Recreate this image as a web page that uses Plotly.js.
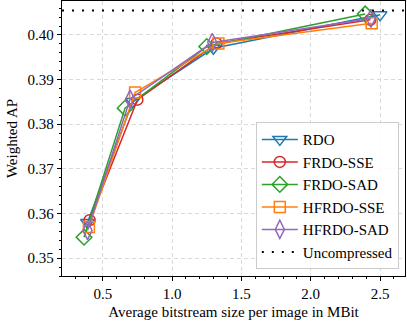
<!DOCTYPE html>
<html>
<head>
<meta charset="utf-8">
<script src="https://cdn.plot.ly/plotly-3.0.1.min.js"></script>
<style>html,body{margin:0;padding:0;background:#fff;} #chart{width:407px;height:324px;}</style>
</head>
<body>
<div id="chart"></div>
<script>
// Weighted AP over bitstream size, one series per rate-distortion method
const names = ['RDO', 'FRDO-SSE', 'FRDO-SAD', 'HFRDO-SSE', 'HFRDO-SAD'];
const rdoX = [0.39, 0.716, 1.298, 2.50];
const rdoY = [0.3580, 0.3851, 0.3970, 0.4045];
const frdoSseX = [0.405, 0.75, 1.32, 2.43];
const frdoSseY = [0.3585, 0.3855, 0.3981, 0.4034];
const frdoSadX = [0.365, 0.661, 1.25, 2.393];
const frdoSadY = [0.3547, 0.3836, 0.3974, 0.4047];
const hfrdoSseX = [0.40, 0.733, 1.334, 2.44];
const hfrdoSseY = [0.3570, 0.3871, 0.3981, 0.4026];
const hfrdoSadX = [0.39, 0.697, 1.29, 2.434];
const hfrdoSadY = [0.3562, 0.3856, 0.3983, 0.4037];
const uncompressed = 0.4055;

const colors = ['#1f77b4', '#d62728', '#2ca02c', '#ff7f0e', '#9467bd'];
const symbols = ['triangle-down-open', 'circle-open', 'diamond-open', 'square-open', 'diamond-tall-open'];
const sizes = [12, 11, 12, 11, 13];
const xs = [rdoX, frdoSseX, frdoSadX, hfrdoSseX, hfrdoSadX];
const ys = [rdoY, frdoSseY, frdoSadY, hfrdoSseY, hfrdoSadY];

const traces = names.map((n, i) => ({
    x: xs[i], y: ys[i], name: n,
    type: 'scatter', mode: 'lines+markers',
    line: { color: colors[i], width: 1.5 },
    marker: { symbol: symbols[i], size: sizes[i], color: colors[i], line: { width: 1.5, color: colors[i] } }
}));

const xRange = [0.206, 2.68];
traces.push({
    x: xRange, y: [uncompressed, uncompressed], name: 'Uncompressed',
    type: 'scatter', mode: 'lines',
    line: { color: 'black', width: 2, dash: '2px,8px' }
});

const serif = "'Liberation Serif', serif";
const layout = {
    width: 407, height: 324,
    margin: { l: 62, r: 2, t: 1, b: 48 },
    paper_bgcolor: 'white', plot_bgcolor: 'white',
    font: { family: serif, size: 15, color: 'black' },
    showlegend: true,
    xaxis: {
        title: { text: 'Average bitstream size per image in MBit', font: { family: serif, size: 15 }, standoff: 5 },
        tickfont: { family: serif, size: 15 },
        range: xRange, tickvals: [0.5, 1.0, 1.5, 2.0, 2.5], ticktext: ['0.5', '1.0', '1.5', '2.0', '2.5'],
        ticks: 'outside', ticklen: 4, tickwidth: 1, tickcolor: 'black',
        minor: { dtick: 0.1, tick0: 0, ticks: 'outside', ticklen: 2, tickcolor: 'black', showgrid: false },
        showline: true, linecolor: 'black', linewidth: 1.2, mirror: true,
        showgrid: true, gridcolor: '#d9d9d9', griddash: '4px,3px', gridwidth: 1,
        zeroline: false
    },
    yaxis: {
        title: { text: 'Weighted AP', font: { family: serif, size: 15 }, standoff: 6 },
        tickfont: { family: serif, size: 15 },
        range: [0.346, 0.4076], tickvals: [0.35, 0.36, 0.37, 0.38, 0.39, 0.40],
        ticktext: ['0.35', '0.36', '0.37', '0.38', '0.39', '0.40'],
        ticks: 'outside', ticklen: 4, tickwidth: 1, tickcolor: 'black',
        minor: { dtick: 0.002, tick0: 0.35, ticks: 'outside', ticklen: 2, tickcolor: 'black', showgrid: false },
        showline: true, linecolor: 'black', linewidth: 1.2, mirror: true,
        showgrid: true, gridcolor: '#d9d9d9', griddash: '4px,3px', gridwidth: 1,
        zeroline: false
    },
    legend: {
        x: 0.982, xanchor: 'right', y: 0.025, yanchor: 'bottom',
        bgcolor: 'rgba(255,255,255,0.85)', bordercolor: '#cccccc', borderwidth: 1,
        font: { family: serif, size: 15 }, tracegroupgap: 0, itemwidth: 36
    }
};

Plotly.newPlot('chart', traces, layout, { displayModeBar: false, staticPlot: true });
</script>
</body>
</html>
